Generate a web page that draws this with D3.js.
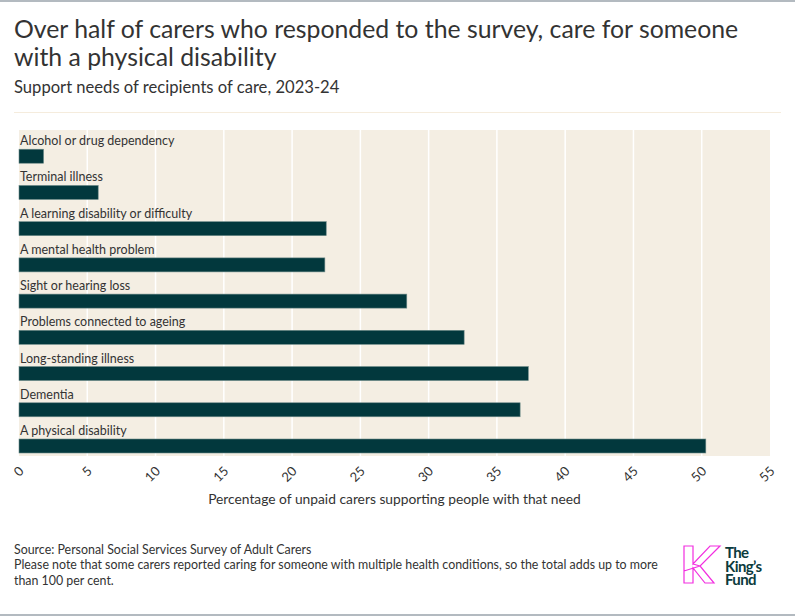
<!DOCTYPE html>
<html>
<head>
<meta charset="utf-8">
<script src="https://cdn.jsdelivr.net/npm/d3@7"></script>
<style>
  body { margin: 0; background: #fff; }
  svg { display: block; font-family: Lato, "Noto Sans", sans-serif; }
</style>
</head>
<body>
<svg width="795" height="616"></svg>
<script>
const svg = d3.select('svg');
const width = 795;
const height = 616;

// data, top to bottom as drawn
const needs = [
  'Alcohol or drug dependency',
  'Terminal illness',
  'A learning disability or difficulty',
  'A mental health problem',
  'Sight or hearing loss',
  'Problems connected to ageing',
  'Long-standing illness',
  'Dementia',
  'A physical disability'
];
const percentages = [1.8, 5.8, 22.5, 22.4, 28.4, 32.6, 37.3, 36.7, 50.3];
const xTicks = [0, 5, 10, 15, 20, 25, 30, 35, 40, 45, 50, 55];

const data = needs.map((d, i) => ({ need: d, value: percentages[i] }));

// page frame
svg.append('rect').attr('x', 0).attr('y', 0).attr('width', width).attr('height', 2).attr('fill', '#b3bac0');
svg.append('rect').attr('x', 0).attr('y', height - 2).attr('width', width).attr('height', 2).attr('fill', '#b3bac0');

svg.append('text').attr('x', 14).attr('y', 38)
  .attr('font-size', 24.8).attr('fill', '#333').text('Over half of carers who responded to the survey, care for someone');
svg.append('text').attr('x', 14).attr('y', 66)
  .attr('font-size', 24.8).attr('fill', '#333').text('with a physical disability');
svg.append('text').attr('x', 14).attr('y', 93)
  .attr('font-size', 16.6).attr('fill', '#333').text('Support needs of recipients of care, 2023-24');
svg.append('line').attr('x1', 14).attr('x2', 781).attr('y1', 112.5).attr('y2', 112.5)
  .attr('stroke', '#f5ecdd').attr('stroke-width', 1);

const margin = { top: 130, right: 25, bottom: 160, left: 19 };
const innerWidth = width - margin.left - margin.right;
const innerHeight = height - margin.top - margin.bottom;

const xScale = d3.scaleLinear().domain([0, 55]).range([0, innerWidth]);
const yScale = d3.scaleBand().domain(needs).range([0, innerHeight]);

const g = svg.append('g').attr('transform', `translate(${margin.left},${margin.top})`);

g.append('rect').attr('width', innerWidth).attr('height', innerHeight).attr('fill', '#f4eee3');

g.selectAll('.grid').data(xTicks.slice(1, -1)).enter().append('line')
  .attr('class', 'grid')
  .attr('x1', d => xScale(d)).attr('x2', d => xScale(d))
  .attr('y1', 0).attr('y2', innerHeight)
  .attr('stroke', '#fff').attr('stroke-width', 1.5);

const barH = 14;
g.selectAll('.bar').data(data).enter().append('rect')
  .attr('class', 'bar')
  .attr('x', 0)
  .attr('y', d => yScale(d.need) + yScale.bandwidth() - barH - 3)
  .attr('width', d => xScale(d.value))
  .attr('height', barH)
  .attr('fill', '#02383d')
  .attr('stroke', '#6d8a89').attr('stroke-width', 0.6);

g.selectAll('.lbl').data(data).enter().append('text')
  .attr('class', 'lbl')
  .attr('x', 1)
  .attr('y', d => yScale(d.need) + yScale.bandwidth() - barH - 7)
  .attr('font-size', 12.5).attr('fill', '#333')
  .text(d => d.need);

const xAxis = d3.axisBottom(xScale).tickValues(xTicks).tickSize(0).tickPadding(6);
const xAxisG = g.append('g').attr('transform', `translate(0,${innerHeight})`).call(xAxis);
xAxisG.select('.domain').remove();
xAxisG.selectAll('text')
  .attr('font-family', 'Lato, sans-serif')
  .attr('font-size', 13).attr('fill', '#333')
  .attr('text-anchor', 'end')
  .attr('dy', null).attr('y', 0)
  .attr('transform', 'translate(5,16) rotate(-45)');

svg.append('text').attr('x', margin.left + innerWidth / 2 - 0).attr('y', 504)
  .attr('text-anchor', 'middle').attr('font-size', 13.8).attr('fill', '#333')
  .text('Percentage of unpaid carers supporting people with that need');

// footer
const foot = ['Source: Personal Social Services Survey of Adult Carers',
  'Please note that some carers reported caring for someone with multiple health conditions, so the total adds up to more',
  'than 100 per cent.'];
svg.selectAll('.foot').data(foot).enter().append('text')
  .attr('class', 'foot')
  .attr('x', 14).attr('y', (d, i) => 553.5 + i * 15.5)
  .attr('font-size', 12.4).attr('fill', '#333')
  .text(d => d);

// logo
const logo = svg.append('g').attr('transform', 'translate(684,546)');
logo.append('path')
  .attr('d', 'M0,0 H9 V18 L26,0 H36 L16,20 L30,37 H21 L9,22 V37 H0 Z M0,25 L16,20 M9,18 L16,20')
  .attr('fill', 'none').attr('stroke', '#f22ee0').attr('stroke-width', 1.2).attr('stroke-linejoin', 'miter');
logo.selectAll('.lt').data(['The', 'King\u2019s', 'Fund']).enter().append('text')
  .attr('x', 41).attr('y', (d, i) => 12 + i * 13.5)
  .attr('font-size', 15).attr('font-weight', 700).attr('fill', '#0b3b3d')
  .attr('letter-spacing', -0.6)
  .text(d => d);
</script>
</body>
</html>
